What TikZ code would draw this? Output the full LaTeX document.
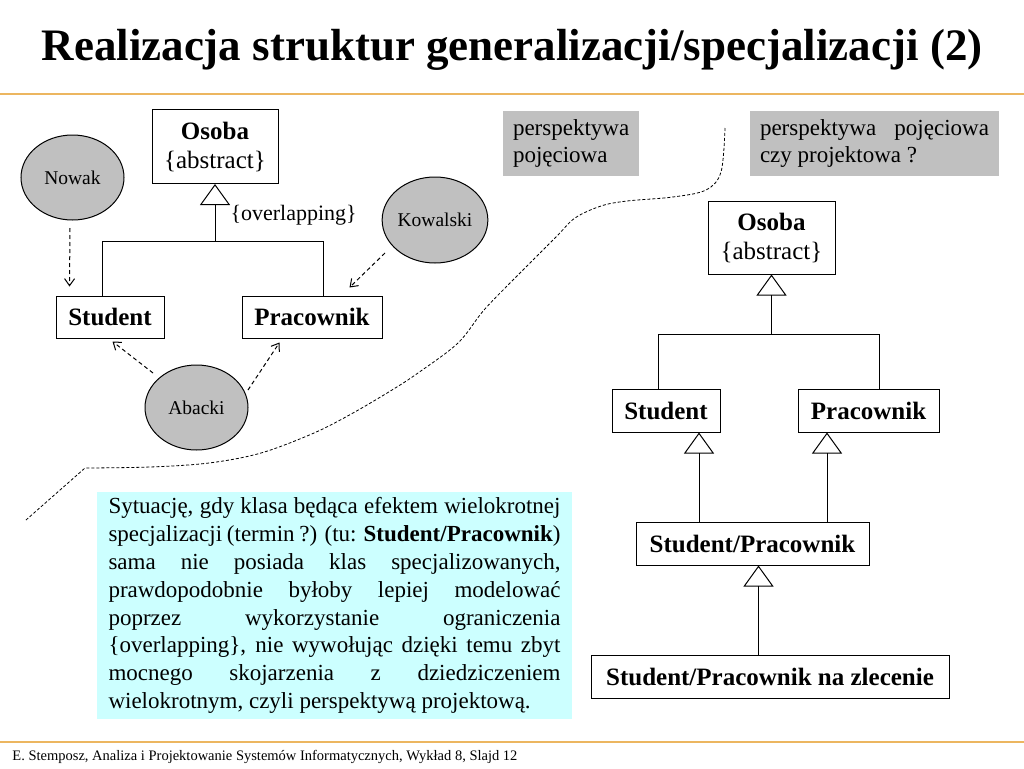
\documentclass[tikz,border=0pt]{standalone}
\usepackage{fontspec}
\setmainfont{Liberation Serif}
\usetikzlibrary{arrows.meta,shapes.geometric,calc}
\definecolor{rulec}{RGB}{236,182,96}
\definecolor{objgray}{RGB}{192,192,192}
\definecolor{notegray}{RGB}{192,192,192}
\definecolor{notecyan}{RGB}{204,255,255}
\begin{document}
\begin{tikzpicture}[x=1pt,y=-1pt,line width=1pt,
  cls/.style={draw,fill=white,inner sep=0pt,align=center,
    font=\fontsize{25}{31}\selectfont\bfseries},
  obj/.style={draw,ellipse,fill=objgray,inner sep=0pt,
    font=\fontsize{19.5}{23}\selectfont},
  dep/.style={dash pattern=on 4pt off 3pt,-{Straight Barb[length=7pt,width=10pt,line width=1pt]}},
  gen/.style={-{Triangle[open,length=21pt,width=30pt]}},
  note/.style={fill=notegray,inner sep=0pt,font=\fontsize{23}{26.5}\selectfont},
  sep/.style={dash pattern=on 3pt off 2pt,line width=0.8pt},
  hrule/.style={draw=rulec,line width=1.5pt}]
\useasboundingbox (0,0) rectangle (1024,768);
\fill[white] (0,0) rectangle (1024,768);

% title and rules
\node[anchor=base,font=\fontsize{45}{50}\selectfont\bfseries] (title) at (512,60.5)
  {Realizacja struktur generalizacji/specjalizacji (2)};
\coordinate (r1a) at (0,94); \coordinate (r1b) at (1024,94);
\draw[hrule] (r1a) -- (r1b);
\coordinate (r2a) at (0,742); \coordinate (r2b) at (1024,742);
\draw[hrule] (r2a) -- (r2b);
\node[anchor=base west,inner sep=0pt,font=\fontsize{14.5}{16}\selectfont] (foot) at (12,760)
  {E. Stemposz, Analiza i Projektowanie Systemów Informatycznych, Wykład 8, Slajd 12};

% left diagram
\node[cls,minimum width=126,minimum height=74] (osobaL) at (215,146.5)
  {Osoba\\[-2pt]{\mdseries\{abstract\}}};
\node[cls,minimum width=108,minimum height=42] (studL) at (110,317) {Student};
\node[cls,minimum width=140,minimum height=42] (pracL) at (312,317) {Pracownik};
\coordinate (jL) at (215,241);
\draw ($(studL.north west)+(47,0)$) |- (jL);
\draw ($(pracL.north west)+(82,0)$) |- (jL);
\draw[gen] (jL) -- (osobaL.south);
\node[anchor=west,inner sep=0pt,font=\fontsize{22}{26}\selectfont] (ovl) at (230,215)
  {\{overlapping\}};

\node[obj,minimum width=103,minimum height=85] (nowak) at (72.5,177.5) {Nowak};
\node[obj,minimum width=104,minimum height=86] (kow) at (435,220) {Kowalski};
\node[obj,minimum width=103,minimum height=85] (ab) at (196.5,407.5) {Abacki};

\draw[dep] ($(nowak.center)+(-2.5,50.5)$) -- ($(studL.north west)+(14,-9)$);
\draw[dep] ($(kow.center)+(-50,33)$) -- ($(pracL.north west)+(108,-8)$);
\draw[dep] ($(ab.center)+(-43.5,-34.5)$) -- ($(studL.south west)+(57,3)$);
\draw[dep] ($(ab.center)+(51.5,-17.5)$) -- ($(pracL.south west)+(38,4)$);

% notes
\node[note,minimum width=136,minimum height=65,text width=116,align=left] (n1) at (571,143.5)
  {perspektywa\\pojęciowa};
\node[note,minimum width=249,minimum height=65,text width=229,align=justify] (n2) at (874.5,143.5)
  {perspektywa pojęciowa\linebreak czy projektowa ?};

% separator
\draw[sep] plot[smooth,tension=0.55] coordinates {(725,128) (721,172) (706,190) (673,197) (627,201) (601,206) (575,218) (556,237) (516,277) (484,310) (458,343) (418,373) (392,390) (353,413) (314,433) (261,453) (209,463) (150,467) (85,468)} -- (26,520);

% right diagram
\node[cls,minimum width=127,minimum height=73] (osobaR) at (771.5,237.5)
  {Osoba\\[-2pt]{\mdseries\{abstract\}}};
\node[cls,minimum width=108,minimum height=43] (studR) at (666,410.5) {Student};
\node[cls,minimum width=141,minimum height=43] (pracR) at (868.5,410.5) {Pracownik};
\node[cls,minimum width=233,minimum height=43] (spR) at (752.5,543.5) {Student/Pracownik};
\node[cls,minimum width=358,minimum height=43] (spzR) at (770,676.5) {Student/Pracownik na zlecenie};
\coordinate (jR) at (771.5,334);
\draw ($(studR.north west)+(47,0)$) |- (jR);
\draw ($(pracR.north west)+(82,0)$) |- (jR);
\draw[gen] (jR) -- (osobaR.south);
\draw[gen] ($(spR.north west)+(63.5,0)$) -- ($(studR.south west)+(87.5,0)$);
\draw[gen] ($(spR.north west)+(191.5,0)$) -- ($(pracR.south west)+(29.5,0)$);
\draw[gen] ($(spzR.north west)+(168,0)$) -- ($(spR.south west)+(123,0)$);

% cyan note
\node[fill=notecyan,inner sep=0pt,minimum width=475,minimum height=227,text width=452,
  align=justify,font=\fontsize{23}{27.9}\selectfont] (n3) at (334.5,605.5)
  {Sytuację, gdy klasa będąca efektem wielokrotnej\linebreak
   specjalizacji (termin ?) (tu: \textbf{Student/Pracownik})\linebreak
   sama nie posiada klas specjalizowanych,\linebreak
   prawdopodobnie byłoby lepiej modelować\linebreak
   poprzez wykorzystanie ograniczenia\linebreak
   \{overlapping\}, nie wywołując dzięki temu zbyt\linebreak
   mocnego skojarzenia z dziedziczeniem\linebreak
   wielokrotnym, czyli perspektywą projektową.};
\end{tikzpicture}
\end{document}
